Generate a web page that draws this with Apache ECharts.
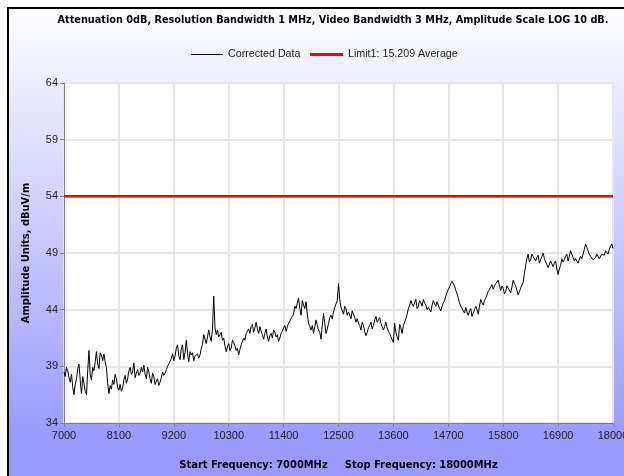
<!DOCTYPE html>
<html>
<head>
<meta charset="utf-8">
<script src="https://cdn.jsdelivr.net/npm/echarts@6/dist/echarts.min.js"></script>
<style>
  html, body { margin: 0; padding: 0; background: #fff; }
  #chart { width: 624px; height: 476px; }
</style>
</head>
<body>
<div id="chart"></div>
<script>
// trace, one value every 25 MHz from 7000 MHz
var freqStart = 7000;
var freqStep = 25;
var correctedData = [
    38.5, 38.1, 38.9, 38.6, 38.0, 37.6, 38.3, 37.2, 36.5, 37.4, 37.9, 38.8, 39.2, 37.8, 36.6, 38.1, 37.5, 36.8, 36.5, 38.6,
    40.4, 38.3, 37.8, 38.9, 38.6, 39.4, 40.3, 39.2, 38.8, 40.2, 40.0, 39.5, 40.1, 39.4, 38.9, 37.5, 36.6, 37.3, 37.0, 37.8,
    37.4, 38.3, 37.9, 37.1, 36.9,
    37.4, 36.8, 37.1, 37.8, 38.2, 37.5, 37.9, 38.6, 38.9, 38.3, 38.5, 39.3, 38.0, 38.4, 38.7, 38.2, 38.4, 38.9, 38.5, 39.1,
    38.3, 37.9, 38.9, 38.5, 37.9, 37.5, 38.4, 38.1, 37.4, 37.7, 37.9, 37.3, 37.6, 38.0, 38.5, 38.2, 38.4, 38.7, 39.0, 39.2,
    39.3, 39.7, 40.1, 39.5,
    39.9, 40.6, 40.9, 39.9, 39.6, 40.5, 40.9, 39.6, 40.2, 41.3, 40.1, 39.4, 40.3, 40.0, 40.2, 39.5, 39.9, 39.8, 40.1, 39.7,
    40.0, 40.6, 40.9, 41.8, 41.4, 41.0, 41.6, 42.2, 41.6, 41.2, 42.3, 45.2, 42.4, 41.8, 42.2, 41.6, 41.8, 42.0, 41.3, 41.5,
    40.8, 40.3, 40.7, 41.0,
    40.4, 40.6, 41.3, 41.1, 40.8, 40.4, 40.6, 40.0, 40.5, 40.9, 41.2, 41.5, 41.3, 41.9, 42.0, 42.3, 41.9, 42.5, 42.7, 42.0,
    42.4, 42.9, 42.3, 41.9, 42.5, 42.1, 41.8, 41.4, 41.9, 42.3, 41.6, 41.2, 41.7, 41.9, 41.5, 42.2, 42.0, 41.6, 41.8, 41.2,
    41.5, 41.9, 42.1, 42.4,
    42.6, 42.1, 42.5, 42.8, 43.0, 43.2, 43.4, 43.6, 44.3, 44.1, 44.6, 45.0, 44.1, 43.5, 44.8, 44.4, 44.1, 44.7, 43.6, 42.8,
    42.5, 42.2, 42.6, 41.9, 42.5, 43.1, 42.6, 42.2, 42.0, 41.4, 42.6, 43.7, 42.8, 41.9, 42.3, 42.8, 43.3, 43.5, 43.2, 43.8,
    44.2, 44.5, 44.8, 46.3,
    44.9, 44.2, 43.9, 43.6, 44.3, 44.1, 43.5, 43.8, 43.7, 43.2, 43.9, 43.6, 43.3, 42.9, 43.2, 42.8, 42.6, 42.2, 42.9, 42.6,
    42.1, 41.7, 42.0, 42.4, 42.6, 42.9, 42.3, 42.6, 43.1, 43.4, 42.9, 43.1, 43.3, 42.8, 42.5, 42.2, 42.5, 42.9, 42.4, 42.1,
    41.9, 41.6, 41.5, 41.1,
    42.8, 42.0, 41.6, 41.3, 42.7, 42.4, 41.9, 42.6, 42.9, 43.2, 43.6, 44.1, 44.4, 44.8, 44.5, 44.3, 44.6, 44.9, 44.1, 44.3,
    44.8, 44.6, 44.3, 44.9, 44.6, 44.4, 44.0, 44.2, 44.1, 43.8, 44.4, 44.8, 44.5, 44.3, 44.7, 44.6, 44.1, 43.9, 44.3, 44.6,
    44.8, 45.2, 45.5, 45.8,
    46.0, 46.3, 46.5, 46.6, 46.1, 45.7, 45.4, 45.0, 44.6, 44.3, 44.2, 43.9, 43.7, 44.2, 43.8, 43.5, 43.9, 44.1, 43.4, 43.7,
    44.0, 44.3, 44.0, 43.6, 44.3, 44.9, 44.6, 44.4, 44.8, 45.0, 45.3, 45.6, 45.7, 46.0, 46.2, 45.8, 46.1, 46.3, 46.2, 46.6,
    46.1, 45.7, 46.1, 45.9,
    45.4, 45.6, 46.1, 45.9, 45.8, 45.5, 46.0, 46.6, 46.3, 46.1, 45.7, 45.3, 45.6, 45.9, 46.0, 46.4, 47.2, 47.9, 48.5, 48.9,
    48.2, 48.4, 48.9, 48.7, 48.5, 48.3, 48.6, 48.8, 48.1, 48.4, 48.7, 49.0, 48.5, 48.2, 48.0, 47.7, 48.0, 48.3, 48.4, 47.8,
    48.1, 48.3, 47.6, 47.1,
    47.6, 47.9, 48.5, 48.2, 48.4, 48.7, 48.9, 48.3, 48.7, 49.2, 48.9, 48.6, 48.3, 48.5, 48.4, 48.1, 48.4, 48.7, 48.5, 48.9,
    49.3, 49.8, 49.5, 49.2, 48.9, 48.7, 48.8, 48.4, 48.3, 48.6, 48.9, 48.8, 48.5, 48.6, 48.9, 49.0, 48.8, 49.2, 49.1, 48.9,
    49.3, 49.6, 49.8, 49.4
];
var limitFreqs = [7000, 18000];
var limitValues = [54, 54];
var xTicks = [7000, 18000, 1100];   // min, max, interval
var yTicks = [34, 64, 5];

var traceData = [];
for (var i = 0; i < correctedData.length; i++) {
    traceData.push([freqStart + i * freqStep, correctedData[i]]);
}
var limitData = [];
for (var j = 0; j < limitFreqs.length; j++) {
    limitData.push([limitFreqs[j], limitValues[j]]);
}

var boldFont = '"DejaVu Sans Condensed", "DejaVu Sans", sans-serif';
var plainFont = '"Liberation Sans", sans-serif';
var chart = echarts.init(document.getElementById('chart'));
var option = {
    backgroundColor: '#ffffff',
    animation: false,
    graphic: {
        elements: [{
            type: 'rect',
            z: -100,
            silent: true,
            shape: { x: 8, y: 8, width: 700, height: 500 },
            style: {
                fill: new echarts.graphic.LinearGradient(0, 0, 0, 1, [
                    { offset: 0, color: '#ffffff' },
                    { offset: 0.86, color: '#9a9aff' },
                    { offset: 1, color: '#9999ff' }
                ]),
                stroke: '#000000',
                lineWidth: 2
            }
        }]
    },
    title: {
        text: 'Attenuation 0dB, Resolution Bandwidth 1 MHz, Video Bandwidth 3 MHz, Amplitude Scale LOG 10 dB.',
        left: 333,
        textAlign: 'center',
        top: 15,
        padding: 0,
        textStyle: { fontFamily: boldFont, fontSize: 10.8, fontWeight: 'bold', color: '#000' }
    },
    legend: [{
        top: 49,
        left: 191,
        padding: 0,
        icon: 'rect',
        itemWidth: 32,
        itemHeight: 1,
        textStyle: { fontFamily: plainFont, fontSize: 10.7, color: '#222' },
        data: ['Corrected Data']
    }, {
        top: 49,
        left: 310,
        padding: 0,
        icon: 'rect',
        itemWidth: 33,
        itemHeight: 3,
        textStyle: { fontFamily: plainFont, fontSize: 10.7, color: '#222' },
        data: ['Limit1: 15.209 Average']
    }],
    grid: {
        left: 64,
        right: 11,
        top: 83,
        bottom: 53,
        outerBoundsMode: 'none',
        containLabel: false,
        show: true,
        backgroundColor: '#ffffff',
        borderWidth: 0
    },
    xAxis: {
        type: 'value',
        min: xTicks[0],
        max: xTicks[1],
        interval: xTicks[2],
        name: 'Start Frequency: 7000MHz     Stop Frequency: 18000MHz',
        nameLocation: 'middle',
        nameGap: 37,
        nameTextStyle: { fontFamily: boldFont, fontSize: 11, fontWeight: 'bold', color: '#000' },
        axisLine: { lineStyle: { color: '#808080', width: 1 } },
        axisTick: { show: true, length: 4, lineStyle: { color: '#808080' } },
        axisLabel: {
            fontFamily: plainFont, fontSize: 11, color: '#222', margin: 7,
            formatter: function (v) { return String(v); }
        },
        splitLine: { lineStyle: { color: '#e6e6e6', width: 2 } }
    },
    yAxis: {
        type: 'value',
        min: yTicks[0],
        max: yTicks[1],
        interval: yTicks[2],
        name: 'Amplitude Units, dBuV/m',
        nameLocation: 'middle',
        nameGap: 32,
        nameTextStyle: { fontFamily: boldFont, fontSize: 11, fontWeight: 'bold', color: '#000' },
        axisLine: { show: true, lineStyle: { color: '#808080', width: 1 } },
        axisTick: { show: true, length: 4, lineStyle: { color: '#808080' } },
        axisLabel: { fontFamily: plainFont, fontSize: 11, color: '#222', margin: 6 },
        splitLine: { lineStyle: { color: '#e6e6e6', width: 2 } }
    },
    series: [{
        name: 'Corrected Data',
        type: 'line',
        data: traceData,
        symbol: 'none',
        lineStyle: { color: '#000000', width: 1 },
        itemStyle: { color: '#000000' },
        z: 3
    }, {
        name: 'Limit1: 15.209 Average',
        type: 'line',
        data: limitData,
        symbol: 'none',
        lineStyle: { color: '#ff0000', width: 2.5 },
        itemStyle: { color: '#ff0000' },
        z: 4
    }]
};
chart.setOption(option);
</script>
</body>
</html>
